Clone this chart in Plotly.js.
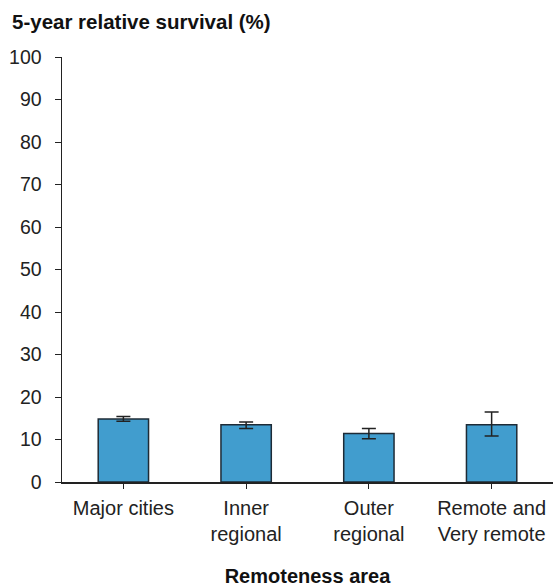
<!DOCTYPE html>
<html>
<head>
<meta charset="utf-8">
<script src="https://cdn.plot.ly/plotly-3.0.1.min.js"></script>
<style>html,body{margin:0;padding:0;background:#fff;}#chart{width:556px;height:587px;}</style>
</head>
<body>
<div id="chart"></div>
<script>
const categories = ["Major cities", "Inner<br>regional", "Outer<br>regional", "Remote and<br>Very remote"];
const survival = [14.8, 13.5, 11.4, 13.5];
const ciLower = [14.3, 12.6, 10.2, 10.8];
const ciUpper = [15.4, 14.1, 12.6, 16.5];
const yTicks = [0, 10, 20, 30, 40, 50, 60, 70, 80, 90, 100];

const trace = {
  type: 'bar',
  x: categories,
  y: survival,
  marker: {color: '#419DCE', line: {color: '#1E2B36', width: 1.5}},
  error_y: {
    type: 'data', symmetric: false,
    array: survival.map((v, i) => ciUpper[i] - v),
    arrayminus: survival.map((v, i) => v - ciLower[i]),
    color: '#222', thickness: 1.5, width: 7
  },
  hoverinfo: 'skip'
};

const layout = {
  width: 556, height: 587,
  margin: {l: 62, r: 3, t: 57, b: 105},
  paper_bgcolor: '#fff', plot_bgcolor: '#fff',
  font: {family: 'Liberation Sans, Arial, sans-serif', size: 20, color: '#222'},
  bargap: 0.59,
  showlegend: false,
  title: {
    text: '<b>5-year relative survival (%)</b>',
    font: {size: 20.5, color: '#111'},
    xref: 'container', yref: 'container',
    x: 12/556, xanchor: 'left', y: 1 - 22/587, yanchor: 'middle'
  },
  xaxis: {
    type: 'category',
    showline: true, linecolor: '#222', linewidth: 1.5,
    ticks: 'outside', ticklen: 5, tickcolor: '#222',
    tickfont: {size: 20, color: '#222'},
    ticklabelstandoff: 2,
    title: {text: '<b>Remoteness area</b>', font: {size: 20, color: '#111'}, standoff: 30},
    showgrid: false, zeroline: false, fixedrange: true
  },
  yaxis: {
    range: [0, 100],
    tickvals: yTicks,
    showline: true, linecolor: '#222', linewidth: 1.5,
    ticks: 'outside', ticklen: 6, tickcolor: '#222',
    tickfont: {size: 19.5, color: '#222'},
    ticklabelstandoff: 9,
    showgrid: false, zeroline: false, fixedrange: true
  }
};

Plotly.newPlot('chart', [trace], layout, {displayModeBar: false, staticPlot: true});
</script>
</body>
</html>
